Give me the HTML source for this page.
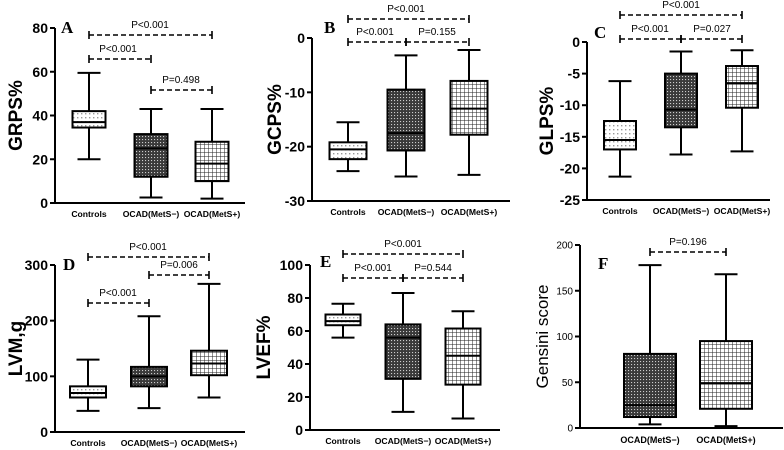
<!DOCTYPE html>
<html><head><meta charset="utf-8"><style>
html,body{margin:0;padding:0;background:#fff;width:784px;height:450px;overflow:hidden}
svg{display:block;font-family:"Liberation Sans",Arial,sans-serif}
</style></head><body>
<svg id="fig" width="784" height="450" viewBox="0 0 784 450">
<defs>
<pattern id="pDots" width="4" height="4" patternUnits="userSpaceOnUse"><rect width="4" height="4" fill="#fff"/><rect x="1" y="1" width="1.4" height="1.4" fill="#999"/></pattern>
<pattern id="pCheck" width="3" height="3" patternUnits="userSpaceOnUse"><rect width="3" height="3" fill="#3a3a3a"/><rect x="1" y="1" width="1.1" height="1.1" fill="#ccc"/></pattern>
<pattern id="pGrid" width="4" height="4" patternUnits="userSpaceOnUse"><rect width="4" height="4" fill="#fff"/><path d="M0 0H4M0 0V4" stroke="#222" stroke-width="1"/></pattern>
</defs>
</svg>
<script>
// ---- data ----
const catsABC = ["Controls","OCAD(MetS\u2212)","OCAD(MetS+)"];
const catsF = ["OCAD(MetS\u2212)","OCAD(MetS+)"];
const aMin=[20,2.5,2], aQ1=[34.5,12,10], aMed=[37,25,18], aQ3=[42,31.5,28], aMax=[59.5,43,43];
const bMin=[-24.5,-25.5,-25.2], bQ1=[-22.3,-20.7,-17.8], bMed=[-20.5,-17.5,-13], bQ3=[-19.2,-9.5,-7.9], bMax=[-15.5,-3.2,-2.2];
const cMin=[-21.3,-17.8,-17.3], cQ1=[-17,-13.5,-10.4], cMed=[-15.5,-10.7,-6.5], cQ3=[-12.5,-5,-3.8], cMax=[-6.2,-1.5,-1.3];
const dMin=[38,43,62], dQ1=[62,82,102], dMed=[70,100,123], dQ3=[82,117,146], dMax=[130,208,266];
const eMin=[56,11,7], eQ1=[63.5,31,27.5], eMed=[66,56,45], eQ3=[70,64,61.5], eMax=[76.5,83,72];
const fMin=[4,2], fQ1=[12,21], fMed=[25,49], fQ3=[81,95], fMax=[178,168];
const aTicks=[0,20,40,60,80], bTicks=[-30,-20,-10,0], cTicks=[-25,-20,-15,-10,-5,0], dTicks=[0,100,200,300], eTicks=[0,20,40,60,80,100], fTicks=[0,50,100,150,200];

const NS="http://www.w3.org/2000/svg";
const svg=document.getElementById('fig');
function mk(tag,attrs,parent){const e=document.createElementNS(NS,tag);for(const k in attrs)e.setAttribute(k,attrs[k]);(parent||svg).appendChild(e);return e;}
const fills=["url(#pDots)","url(#pCheck)","url(#pGrid)"];

function panel(p){
  const g=mk('g',{});
  
  
  const y=v=>p.y0+(v-p.vmin)/(p.vmax-p.vmin)*(p.y1-p.y0);
  const ya=mk('line',{x1:p.ax,y1:y(p.vmax),x2:p.ax,y2:p.y0,stroke:'#000','stroke-width':2},g);
  
  
  const xa=mk('line',{x1:p.ax,y1:p.y0,x2:p.axEnd,y2:p.y0,stroke:'#000','stroke-width':2},g);
  
  
  p.ticks.forEach(t=>{
    mk('line',{x1:p.ax-5,y1:y(t),x2:p.ax,y2:y(t),stroke:'#000','stroke-width':2},g);
    const tx=mk('text',{x:p.ax-7,y:y(t)+(p.small?3.5:5),'text-anchor':'end','font-size':p.small?10:14,'font-weight':p.small?'normal':'bold'},g);
    tx.textContent=t;
    
    
  });
  const yl=mk('text',{x:0,y:0,'text-anchor':'middle','font-size':p.small?17:19,'font-weight':p.small?'normal':'bold',transform:`translate(${p.ylx},${(p.y0+y(p.vmax))/2}) rotate(-90)`},g);
  yl.textContent=p.ylabel;
  
  
  const lt=mk('text',{x:p.lx,y:p.ly,'font-size':17,'font-weight':'bold','font-family':'"Liberation Serif",serif'},g);
  lt.textContent=p.id;
  
  
  p.cats.forEach((c,i)=>{
    const cx=p.cx[i], hw=p.bw/2, cw=11.5;
    const fill=p.cats.length===2?fills[i+1]:fills[i];
    const wl=mk('path',{d:`M${cx} ${y(p.mn[i])}V${y(p.q1[i])}M${cx} ${y(p.q3[i])}V${y(p.mx[i])}M${cx-cw} ${y(p.mn[i])}H${cx+cw}M${cx-cw} ${y(p.mx[i])}H${cx+cw}`,stroke:'#000','stroke-width':2,fill:'none'},g);
    
    
    const b=mk('rect',{x:cx-hw,y:y(p.q3[i]),width:p.bw,height:y(p.q1[i])-y(p.q3[i]),fill:fill,stroke:'#000','stroke-width':2},g);
    
    
    const md=mk('line',{x1:cx-hw,y1:y(p.md[i]),x2:cx+hw,y2:y(p.md[i]),stroke:'#000','stroke-width':2},g);
    
    
    const xl=mk('text',{x:cx,y:p.y0+(p.small?15:14),'text-anchor':'middle','font-size':p.small?9:8.6,'font-weight':'bold'},g);
    xl.textContent=c;
    
    
  });
  p.br.forEach(br=>{
    const x1=p.cx[br[0]], x2=p.cx[br[1]], by=br[2];
    const l=mk('path',{d:`M${x1} ${by}H${x2}`,stroke:'#000','stroke-width':1.6,'stroke-dasharray':'5 3',fill:'none'},g);
    
    
    mk('path',{d:`M${x1} ${by-4}V${by+4}M${x2} ${by-4}V${by+4}`,stroke:'#000','stroke-width':1.6},g);
    br[3].forEach(t=>{
      const tt=mk('text',{x:t[1],y:by-7,'text-anchor':'middle','font-size':10},g);
      tt.textContent=t[0];
      
      
    });
  });
}

panel({id:'A',cats:catsABC,mn:aMin,q1:aQ1,md:aMed,q3:aQ3,mx:aMax,ticks:aTicks,vmin:0,vmax:80,y0:203,y1:28,ax:55,axEnd:245,cx:[89,151,212],bw:33,ylabel:'GRPS%',ylx:22,lx:61,ly:33,
  br:[[0,2,35,[['P<0.001',150]]],[0,1,59,[['P<0.001',118]]],[1,2,90,[['P=0.498',181]]]]});
panel({id:'B',cats:catsABC,mn:bMin,q1:bQ1,md:bMed,q3:bQ3,mx:bMax,ticks:bTicks,vmin:-30,vmax:0,y0:201,y1:38,ax:312,axEnd:510,cx:[348,406,469],bw:37,ylabel:'GCPS%',ylx:281,lx:324,ly:33,
  br:[[0,2,19,[['P<0.001',406]]],[0,1,42,[['P<0.001',375]]],[1,2,42,[['P=0.155',437]]]]});
panel({id:'C',cats:catsABC,mn:cMin,q1:cQ1,md:cMed,q3:cQ3,mx:cMax,ticks:cTicks,vmin:-25,vmax:0,y0:200,y1:42,ax:587,axEnd:770,cx:[620,681,742],bw:32,ylabel:'GLPS%',ylx:553,lx:594,ly:38,
  br:[[0,2,15,[['P<0.001',681]]],[0,1,39,[['P<0.001',650]]],[1,2,39,[['P=0.027',712]]]]});
panel({id:'D',cats:catsABC,mn:dMin,q1:dQ1,md:dMed,q3:dQ3,mx:dMax,ticks:dTicks,vmin:0,vmax:300,y0:432,y1:265,ax:55,axEnd:245,cx:[88,149,209],bw:36,ylabel:'LVM,g',ylx:22,lx:63,ly:270,
  br:[[0,2,257,[['P<0.001',148]]],[1,2,275,[['P=0.006',179]]],[0,1,303,[['P<0.001',118]]]]});
panel({id:'E',cats:catsABC,mn:eMin,q1:eQ1,md:eMed,q3:eQ3,mx:eMax,ticks:eTicks,vmin:0,vmax:100,y0:430,y1:265,ax:310,axEnd:500,cx:[343,403,463],bw:35,ylabel:'LVEF%',ylx:270,lx:320,ly:267,
  br:[[0,2,254,[['P<0.001',403]]],[0,1,278,[['P<0.001',373]]],[1,2,278,[['P=0.544',433]]]]});
panel({id:'F',cats:catsF,mn:fMin,q1:fQ1,md:fMed,q3:fQ3,mx:fMax,ticks:fTicks,vmin:0,vmax:200,y0:428,y1:245,ax:580,axEnd:783,cx:[650,726],bw:52,ylabel:'Gensini score',ylx:548,lx:598,ly:269,small:true,
  br:[[0,1,252,[['P=0.196',688]]]]});
</script>
</body></html>
